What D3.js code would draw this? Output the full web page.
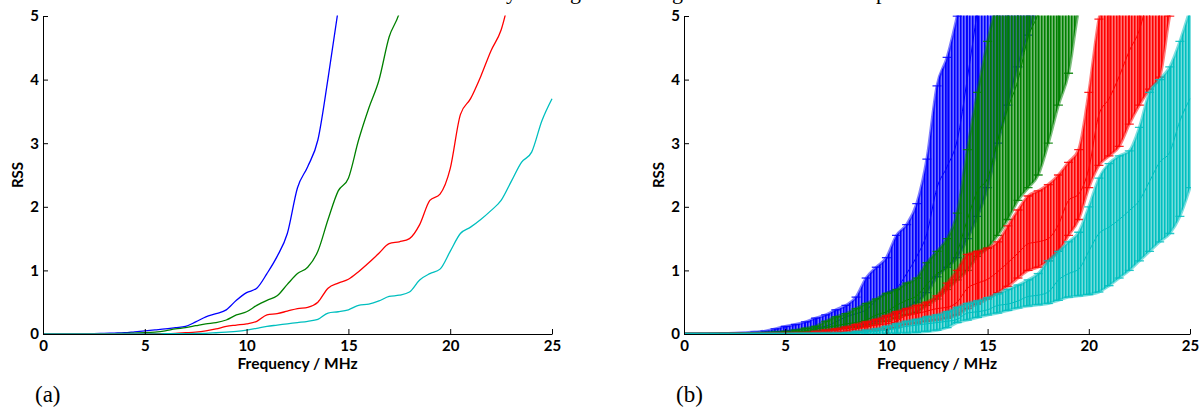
<!DOCTYPE html>
<html>
<head>
<meta charset="utf-8">
<script src="https://cdn.jsdelivr.net/npm/d3@7"></script>
<style>
  body { margin: 0; background: #fff; }
  svg { display: block; }
</style>
</head>
<body>
<div id="chart"></div>
<script>
// frequency grid (MHz)
const freq = [0, 0.5, 1, 1.5, 2, 2.5, 3, 3.5, 4, 4.5, 5, 5.5, 6, 6.5, 7, 7.5, 8, 8.5, 9, 9.5,
  10, 10.5, 11, 11.5, 12, 12.5, 13, 13.5, 14, 14.5, 15, 15.5, 16, 16.5, 17, 17.5, 18, 18.5, 19, 19.5,
  20, 20.5, 21, 21.5, 22, 22.5, 23, 23.5, 24, 24.5, 25];

// RSS, mean and error-bar ends, one set per curve
const blueMean = [0, 0, 0, 0.002, 0.004, 0.006, 0.01, 0.015, 0.02, 0.035, 0.05, 0.065, 0.08, 0.1, 0.12, 0.19, 0.27, 0.32, 0.38, 0.53,
  0.65, 0.72, 0.95, 1.22, 1.58, 2.3, 2.63, 3.05, 4.02, 5.1, 6.3, 7.5, 8.7, 10, 11.5, 13,
  null, null, null, null, null, null, null, null, null, null, null, null, null, null, null];
const blueHi = [0, 0, 0, 0.004, 0.008, 0.012, 0.02, 0.03, 0.045, 0.08, 0.12, 0.15, 0.19, 0.25, 0.3, 0.38, 0.45, 0.58, 0.88, 1.05,
  1.2, 1.55, 1.72, 2.05, 2.75, 3.9, 4.35, 5.0, 5.8, 7, 8.5, 10, 11.5, 13, 15, 17,
  null, null, null, null, null, null, null, null, null, null, null, null, null, null, null];
const blueLo = [0, 0, 0, 0.001, 0.002, 0.003, 0.004, 0.006, 0.008, 0.012, 0.02, 0.025, 0.03, 0.04, 0.05, 0.07, 0.1, 0.12, 0.15, 0.2,
  0.27, 0.32, 0.4, 0.5, 0.65, 0.9, 1.05, 1.2, 1.5, 1.85, 2.3, 3.0, 3.6, 4.2, 4.7, 5.2,
  null, null, null, null, null, null, null, null, null, null, null, null, null, null, null];

const greenMean = [0, 0, 0, 0.001, 0.002, 0.003, 0.005, 0.007, 0.01, 0.015, 0.02, 0.03, 0.05, 0.08, 0.1, 0.13, 0.16, 0.18, 0.22, 0.3,
  0.35, 0.45, 0.53, 0.6, 0.78, 0.95, 1.05, 1.3, 1.8, 2.25, 2.45, 3.05, 3.55, 3.99, 4.67, 5.05, 5.8, 6.7, 7.8, 9, 10.5,
  null, null, null, null, null, null, null, null, null, null];
const greenHi = [0, 0, 0, 0.002, 0.004, 0.006, 0.009, 0.013, 0.02, 0.03, 0.04, 0.06, 0.09, 0.12, 0.2, 0.27, 0.32, 0.4, 0.48, 0.55,
  0.64, 0.7, 0.8, 0.88, 1.12, 1.3, 1.5, 1.9, 2.9, 3.8, 4.6, 5.3, 6, 6.8, 7.6, 8.4, 9.3, 10.3, 11.5, 12.8, 14.2,
  null, null, null, null, null, null, null, null, null, null];
const greenLo = [0, 0, 0, 0, 0.001, 0.001, 0.002, 0.003, 0.005, 0.008, 0.01, 0.015, 0.025, 0.04, 0.05, 0.07, 0.09, 0.1, 0.12, 0.16,
  0.2, 0.25, 0.3, 0.34, 0.45, 0.55, 0.7, 0.85, 1.0, 1.22, 1.35, 1.55, 1.8, 2.1, 2.3, 2.5, 3.0, 3.6, 4.1, 5.1, 5.6,
  null, null, null, null, null, null, null, null, null, null];

const redMean = [0, 0, 0, 0, 0, 0.001, 0.001, 0.002, 0.002, 0.003, 0.004, 0.005, 0.006, 0.01, 0.02, 0.03, 0.05, 0.08, 0.12, 0.14,
  0.16, 0.2, 0.3, 0.32, 0.36, 0.4, 0.42, 0.5, 0.72, 0.8, 0.86, 0.98, 1.12, 1.27, 1.42, 1.45, 1.5, 1.72, 2.1, 2.2,
  2.6, 3.45, 3.7, 4.05, 4.45, 4.78, 5.4, 6, 6.7, 7.5, 8.4];
const redHi = [0, 0, 0, 0, 0.001, 0.002, 0.003, 0.004, 0.006, 0.008, 0.01, 0.015, 0.02, 0.04, 0.06, 0.08, 0.11, 0.15, 0.19, 0.23,
  0.29, 0.35, 0.4, 0.45, 0.5, 0.6, 0.8, 1.0, 1.25, 1.3, 1.35, 1.45, 1.7, 1.95, 2.17, 2.25, 2.35, 2.5, 2.7, 2.9,
  3.8, 4.95, 5.5, 6.1, 6.8, 7.5, 8.3, 9.2, 10.1, 11, 12];
const redLo = [0, 0, 0, 0, 0, 0, 0, 0.001, 0.001, 0.001, 0.002, 0.002, 0.003, 0.004, 0.006, 0.01, 0.02, 0.03, 0.05, 0.06,
  0.08, 0.1, 0.15, 0.17, 0.2, 0.22, 0.25, 0.3, 0.4, 0.47, 0.55, 0.65, 0.75, 0.88, 1.0, 1.05, 1.15, 1.3, 1.55, 1.8,
  2.3, 2.65, 2.8, 2.95, 3.3, 3.6, 3.85, 4.04, 5.0, 5.5, 6.0];

const cyanMean = [0, 0, 0, 0, 0, 0, 0.001, 0.001, 0.001, 0.002, 0.002, 0.003, 0.004, 0.005, 0.006, 0.008, 0.01, 0.02, 0.03, 0.04,
  0.06, 0.09, 0.12, 0.14, 0.16, 0.18, 0.2, 0.23, 0.33, 0.35, 0.38, 0.45, 0.47, 0.52, 0.59, 0.61, 0.66, 0.85, 0.95, 1.02,
  1.3, 1.58, 1.68, 1.8, 1.94, 2.1, 2.4, 2.7, 2.86, 3.35, 3.7];
const cyanHi = [0, 0, 0, 0, 0.001, 0.001, 0.002, 0.002, 0.003, 0.004, 0.005, 0.006, 0.008, 0.01, 0.012, 0.015, 0.02, 0.04, 0.06, 0.08,
  0.12, 0.16, 0.2, 0.23, 0.27, 0.3, 0.35, 0.42, 0.48, 0.52, 0.57, 0.63, 0.7, 0.77, 0.85, 0.95, 1.15, 1.3, 1.45, 1.6,
  2.0, 2.45, 2.68, 2.8, 2.88, 3.25, 3.8, 4.0, 4.2, 4.6, 5.1];
const cyanLo = [0, 0, 0, 0, 0, 0, 0, 0, 0, 0, 0, 0, 0, 0, 0, 0, 0.002, 0.003, 0.004, 0.005,
  0.006, 0.01, 0.015, 0.025, 0.04, 0.06, 0.1, 0.18, 0.22, 0.26, 0.3, 0.33, 0.37, 0.41, 0.44, 0.46, 0.48, 0.53, 0.58, 0.6,
  0.62, 0.66, 0.76, 0.88, 1.0, 1.15, 1.3, 1.45, 1.58, 1.85, 2.3];

const xTicks = [0, 5, 10, 15, 20, 25];
const yTicks = [0, 1, 2, 3, 4, 5];

const series = [
  { key: "blue", color: "#0000ff", mean: blueMean, hi: blueHi, lo: blueLo },
  { key: "green", color: "#008000", mean: greenMean, hi: greenHi, lo: greenLo },
  { key: "red", color: "#ff0000", mean: redMean, hi: redHi, lo: redLo },
  { key: "cyan", color: "#00bfbf", mean: cyanMean, hi: cyanHi, lo: cyanLo }
];

const width = 1201;
const height = 414;

const svg = d3.select("#chart")
  .append("svg")
  .attr("width", width)
  .attr("height", height)
  .style("font-family", "Lato, 'Open Sans', sans-serif");

const defs = svg.append("defs");

// vertical hatching that stands in for the dense error bars
series.forEach(s => {
  const pat = defs.append("pattern")
    .attr("id", "hatch-" + s.key)
    .attr("patternUnits", "userSpaceOnUse")
    .attr("width", 3)
    .attr("height", 10);
  pat.append("rect").attr("width", 3).attr("height", 10)
    .attr("fill", s.color).attr("fill-opacity", 0.55);
  pat.append("rect").attr("width", 1.5).attr("height", 10)
    .attr("fill", s.color);
});

const y = d3.scaleLinear().domain([0, 5]).range([334, 16]);

const panels = [
  { id: "a", left: 43, right: 552, label: "(a)", labelX: 35, bars: false },
  { id: "b", left: 684, right: 1190, label: "(b)", labelX: 676, bars: true }
];

// bits of the caption line above, cut off by the crop
const cutText = [["y", 506], ["g", 570], ["g", 672], ["p", 876]];
svg.selectAll("text.cut")
  .data(cutText)
  .enter()
  .append("text")
  .attr("class", "cut")
  .attr("x", d => d[1])
  .attr("y", -1)
  .attr("font-family", "'Liberation Serif', serif")
  .attr("font-size", 22)
  .text(d => d[0]);

panels.forEach(p => {
  const x = d3.scaleLinear().domain([0, 25]).range([p.left, p.right]);
  const g = svg.append("g");

  defs.append("clipPath")
    .attr("id", "clip-" + p.id)
    .append("rect")
    .attr("x", p.left)
    .attr("y", 15.5)
    .attr("width", p.right - p.left + 1)
    .attr("height", 334 - 15.5 + 1);

  const plot = g.append("g").attr("clip-path", "url(#clip-" + p.id + ")");

  const line = d3.line()
    .defined(d => d[1] != null)
    .x(d => x(d[0]))
    .y(d => y(d[1]))
    .curve(d3.curveMonotoneX);

  series.forEach(s => {
    if (p.bars) {
      const rows = freq.map((f, i) => ({ f: f, lo: s.lo[i], hi: s.hi[i] }))
        .filter(d => d.lo != null && d.hi != null);

      // band filled with hatching
      plot.append("path")
        .datum(rows)
        .attr("d", d3.area()
          .x(d => x(d.f))
          .y0(d => y(d.lo))
          .y1(d => y(d.hi))
          .curve(d3.curveMonotoneX))
        .attr("fill", "url(#hatch-" + s.key + ")");

      // edges of the band (where the caps pile up)
      ["lo", "hi"].forEach(k => {
        plot.append("path")
          .datum(rows)
          .attr("d", d3.line().x(d => x(d.f)).y(d => y(d[k])).curve(d3.curveMonotoneX))
          .attr("fill", "none")
          .attr("stroke", s.color)
          .attr("stroke-opacity", 0.5)
          .attr("stroke-width", 3);
      });

      // error bars
      plot.selectAll("line.bar-" + s.key)
        .data(rows)
        .enter()
        .append("line")
        .attr("x1", d => x(d.f))
        .attr("x2", d => x(d.f))
        .attr("y1", d => y(d.lo))
        .attr("y2", d => y(d.hi))
        .attr("stroke", s.color)
        .attr("stroke-width", 1);

      const caps = [];
      rows.forEach(d => { caps.push([d.f, d.lo]); caps.push([d.f, d.hi]); });
      plot.selectAll("line.cap-" + s.key)
        .data(caps)
        .enter()
        .append("line")
        .attr("x1", d => x(d[0]) - 4.5)
        .attr("x2", d => x(d[0]) + 4.5)
        .attr("y1", d => y(d[1]))
        .attr("y2", d => y(d[1]))
        .attr("stroke", s.color)
        .attr("stroke-opacity", 0.85)
        .attr("stroke-width", 1.3);
    }

    plot.append("path")
      .datum(freq.map((f, i) => [f, s.mean[i]]))
      .attr("d", line)
      .attr("fill", "none")
      .attr("stroke", s.color)
      .attr("stroke-width", p.bars ? 1 : 1.3);
  });

  // axes, MATLAB style: ticks inward, no box
  const xAxis = g.append("g")
    .attr("transform", "translate(0,334)")
    .call(d3.axisBottom(x).tickValues(xTicks).tickFormat(d3.format("d"))
      .tickSizeInner(-5).tickSizeOuter(0).tickPadding(6));
  const yAxis = g.append("g")
    .attr("transform", "translate(" + p.left + ",0)")
    .call(d3.axisLeft(y).tickValues(yTicks).tickFormat(d3.format("d"))
      .tickSizeInner(-5).tickSizeOuter(0).tickPadding(4));

  [xAxis, yAxis].forEach(a => {
    a.selectAll("path, line").attr("stroke", "#000").attr("stroke-width", 1);
    a.selectAll("text")
      .attr("fill", "#000")
      .attr("font-family", "Lato, sans-serif")
      .attr("font-weight", "bold")
      .attr("font-size", 15);
  });

  g.append("text")
    .attr("x", (p.left + p.right) / 2)
    .attr("y", 369)
    .attr("text-anchor", "middle")
    .attr("font-weight", "bold")
    .attr("font-size", 15.5)
    .text("Frequency / MHz");

  g.append("text")
    .attr("transform", "translate(" + (p.left - 20) + ",175) rotate(-90)")
    .attr("text-anchor", "middle")
    .attr("font-weight", "bold")
    .attr("font-size", 15)
    .text("RSS");

  g.append("text")
    .attr("x", p.labelX)
    .attr("y", 402)
    .attr("font-family", "'Liberation Serif', serif")
    .attr("font-size", 23)
    .text(p.label);
});
</script>
</body>
</html>
